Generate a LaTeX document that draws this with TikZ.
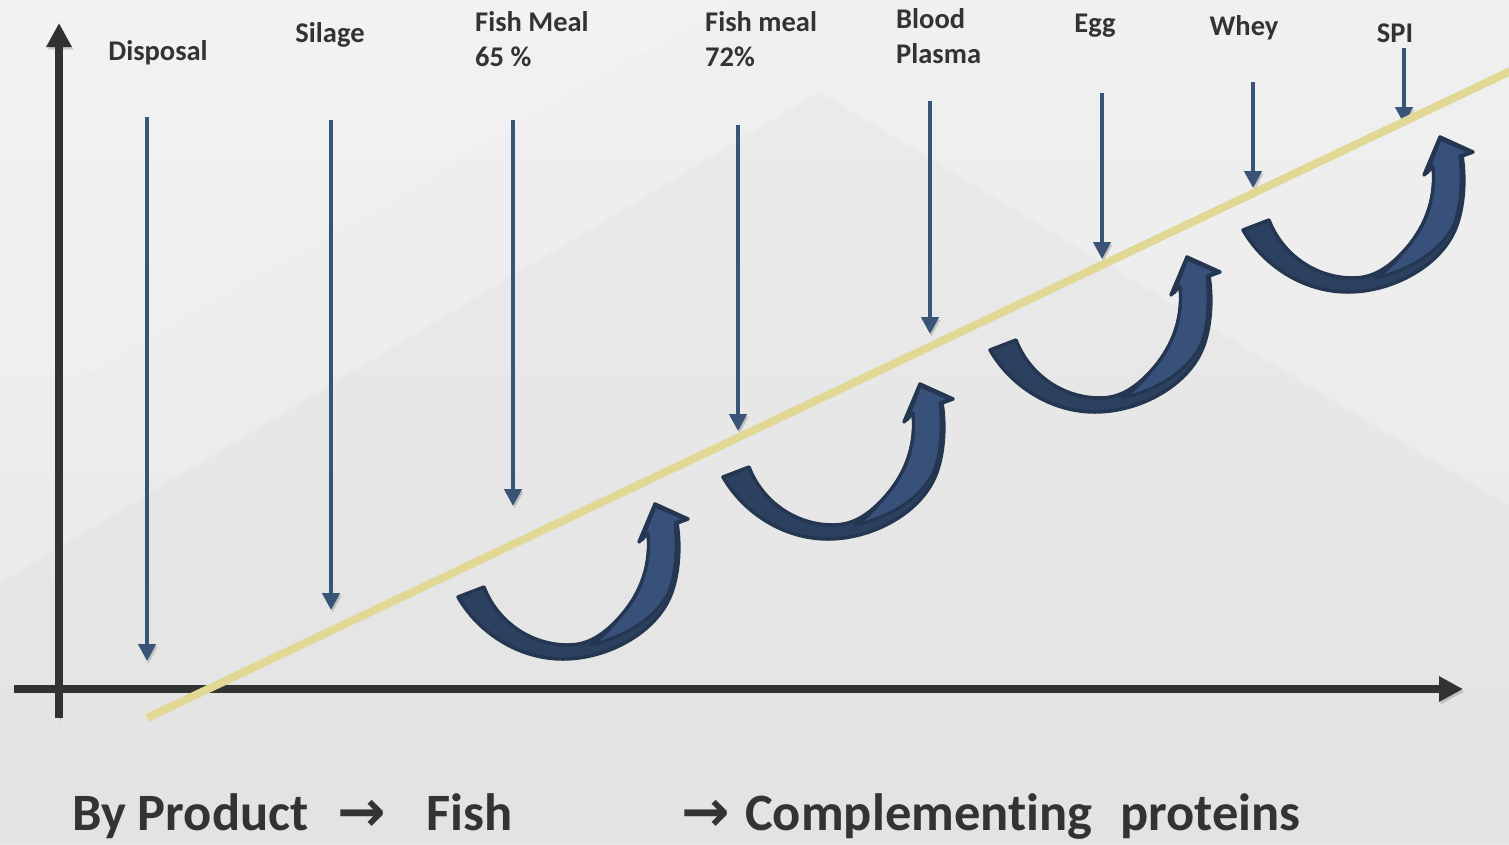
\documentclass[tikz,border=0pt]{standalone}
\usepackage{fontspec}
\setmainfont{Carlito}[Ligatures=NoCommon]
\newfontfamily\arrowfont{DejaVu Sans}
\usepackage{xcolor}
\usepackage{tikz}
\usetikzlibrary{arrows.meta,positioning,calc}
\definecolor{bgtop}{HTML}{F0F0F0}
\definecolor{bgbottom}{HTML}{E8E8E8}
\definecolor{axisgray}{HTML}{323232}
\definecolor{txtgray}{HTML}{333333}
\definecolor{dropblue}{HTML}{3A5478}
\definecolor{trendyellow}{HTML}{E1D895}
\definecolor{backblue}{HTML}{2C405F}
\definecolor{frontblue}{HTML}{37517B}
\definecolor{edgeblue}{HTML}{243650}
\tikzset{
    softshadow/.style={
        preaction={draw=black, opacity=.16, transform canvas={shift={(1.5pt,-2.5pt)}}}
    },
    axis/.style={
        draw=axisgray,
        line width=7.5pt,
        -{Triangle[width=24pt,length=24pt]},
        softshadow
    },
    drop/.style={
        draw=dropblue,
        line width=4.5pt,
        -{Triangle[width=17pt,length=17pt]},
        softshadow
    },
    trend/.style={
        draw=trendyellow,
        line width=8pt,
        softshadow
    },
    lbl/.style={
        font=\fontsize{28.5}{34.5}\selectfont\bfseries,
        text=txtgray,
        inner sep=0pt,
        align=left
    },
    bigtxt/.style={
        font=\fontsize{52.5}{60}\selectfont\bfseries,
        text=txtgray,
        inner sep=0pt
    },
    arrowtxt/.style={
        font=\fontsize{58}{62}\selectfont\arrowfont\bfseries,
        text=txtgray,
        inner sep=0pt
    },
    uturn/.pic={
        % back band
        \filldraw[fill=backblue, draw=edgeblue, line width=3.5pt, line join=round]
            (0,0) .. controls (20,35) and (60,62) .. (105,62)
            .. controls (150,62) and (200,35) .. (214,-5)
            .. controls (222,-28) and (222,-55) .. (219,-74)
            -- (230,-78) -- (197,-93) -- (181,-55) -- (190,-64)
            .. controls (193,-35) and (185,-5) .. (160,22)
            .. controls (145,38) and (130,48) .. (110,48)
            .. controls (70,48) and (38,22) .. (26,-10) -- cycle;
        % front band
        \filldraw[fill=frontblue, draw=edgeblue, line width=3pt, line join=round]
            (132,48) .. controls (168,40) and (200,20) .. (212,-8)
            .. controls (219,-30) and (219,-55) .. (217,-74)
            -- (227,-78) -- (197,-91) -- (184,-57) -- (190,-64)
            .. controls (193,-35) and (185,-5) .. (162,20)
            .. controls (152,32) and (143,42) .. (132,48) -- cycle;
    }
}

\begin{document}
\begin{tikzpicture}[x=1pt, y=-1pt]
    \useasboundingbox (0,0) rectangle (1509,844);
    % background
    \shade[top color=bgtop, bottom color=bgbottom] (0,0) rectangle (1509,844);
    \fill[white, opacity=.15] (0,0) -- (735,0) -- (0,425) -- cycle;
    \fill[black, opacity=.018] (0,583) -- (819,92) -- (1509,506) -- (1509,844) -- (0,844) -- cycle;

    % labels
    \node (disposal) [lbl, anchor=base] at (158,60) {Disposal};
    \node (silage) [lbl, anchor=base] at (330,42) {Silage};
    \node (fishmeal65) [lbl, anchor=base west] at (475,66) {Fish Meal\\65 \%};
    \node (fishmeal72) [lbl, anchor=base west] at (705,66) {Fish meal\\72\%};
    \node (blood) [lbl, anchor=base west] at (896,63) {Blood\\Plasma};
    \node (egg) [lbl, anchor=base] at (1095,32) {Egg};
    \node (whey) [lbl, anchor=base] at (1244,35) {Whey};
    \node (spi) [lbl, anchor=base] at (1395,42) {SPI};

    \coordinate (disposal-top) at (147,117);
    \coordinate (disposal-tip) at (147,661);
    \coordinate (silage-top) at (331,120);
    \coordinate (silage-tip) at (331,610);
    \coordinate (fishmeal65-top) at (513,120);
    \coordinate (fishmeal65-tip) at (513,506);
    \coordinate (fishmeal72-top) at (738,125);
    \coordinate (fishmeal72-tip) at (738,431);
    \coordinate (blood-top) at (930,101);
    \coordinate (blood-tip) at (930,334);
    \coordinate (egg-top) at (1102,93);
    \coordinate (egg-tip) at (1102,259);
    \coordinate (whey-top) at (1253,82);
    \coordinate (whey-tip) at (1253,188);
    \coordinate (spi-top) at (1404,48);
    \coordinate (spi-tip) at (1404,124);

    \draw [drop] (disposal-top) -- (disposal-tip);
    \draw [drop] (silage-top) -- (silage-tip);
    \draw [drop] (fishmeal65-top) -- (fishmeal65-tip);
    \draw [drop] (fishmeal72-top) -- (fishmeal72-tip);
    \draw [drop] (blood-top) -- (blood-tip);
    \draw [drop] (egg-top) -- (egg-tip);
    \draw [drop] (whey-top) -- (whey-tip);
    \draw [drop] (spi-top) -- (spi-tip);

    % axes
    \coordinate (origin-y) at (59,718);
    \coordinate (top-y) at (59,23);
    \coordinate (origin-x) at (14,689);
    \coordinate (end-x) at (1463,689);
    \draw [axis] (origin-y) -- (top-y);
    \draw [axis] (origin-x) -- (end-x);

    % rising line
    \coordinate (trend-start) at (147,718);
    \coordinate (trend-end) at (1515,69);
    \draw [trend] (trend-start) -- (trend-end);

    % curved arrows
    \pic at (458,597) {uturn};
    \pic at (723,477) {uturn};
    \pic at (990,350) {uturn};
    \pic at (1243,230) {uturn};

    % bottom line
    \node (byprod) [bigtxt, anchor=base west] at (72,830) {By Product};
    \node (arrowone) [arrowtxt, anchor=base west] at (337,831) {→};
    \node (fish) [bigtxt, anchor=base west] at (426,830) {Fish};
    \node (arrowtwo) [arrowtxt, anchor=base west] at (681,831) {→};
    \node (complement) [bigtxt, anchor=base west] at (745,830) {Complementing\hspace{28pt}proteins};
\end{tikzpicture}
\end{document}
